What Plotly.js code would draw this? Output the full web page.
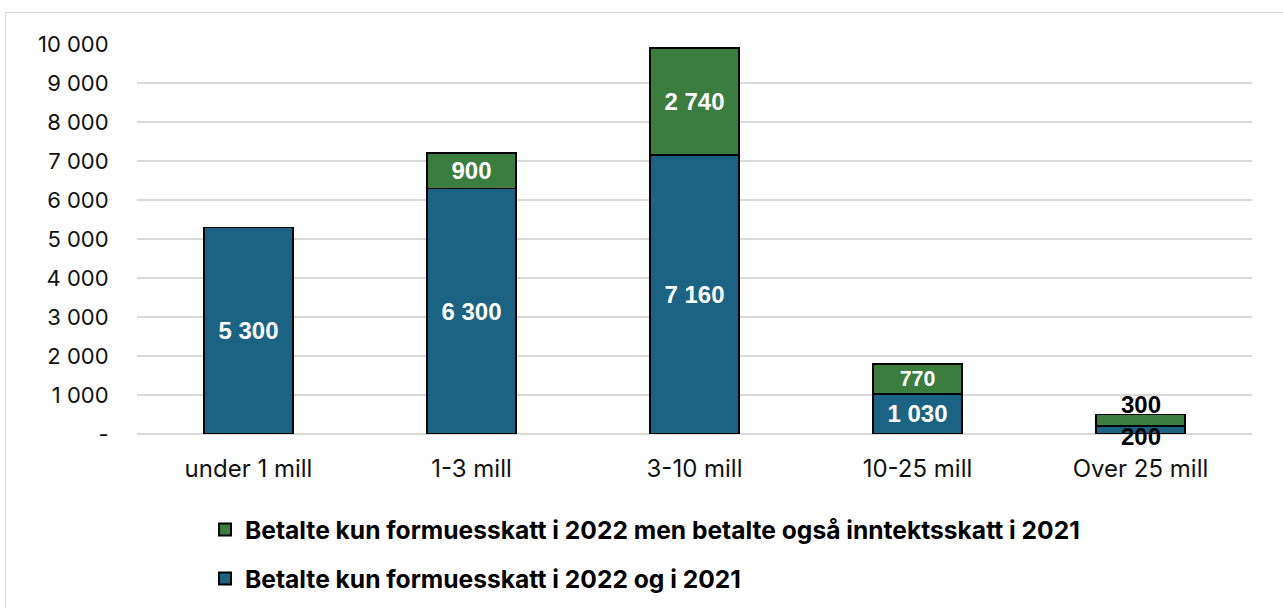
<!DOCTYPE html>
<html>
<head>
<meta charset="utf-8">
<script src="https://cdn.plot.ly/plotly-3.0.1.min.js"></script>
<style>
  html, body { margin: 0; padding: 0; background: #fff; overflow: hidden; }
  #frame { position: absolute; left: 5px; top: 12px; width: 1300px; height: 620px; border: 1px solid #d9d9d9; pointer-events: none; z-index: 5; }
  #chart { position: absolute; left: 0; top: 0; width: 1283px; height: 608px; }
</style>
</head>
<body>
<div id="frame"></div>
<div id="chart"></div>
<script>
const categories = ["under 1 mill", "1-3 mill", "3-10 mill", "10-25 mill", "Over 25 mill"];
const seriesBlueName = "Betalte kun formuesskatt i 2022 og i 2021";
const seriesGreenName = "Betalte kun formuesskatt i 2022 men betalte også inntektsskatt i 2021";
const blueValues = [5300, 6300, 7160, 1030, 200];
const greenValues = [0, 900, 2740, 770, 300];
const yTickVals = [0, 1000, 2000, 3000, 4000, 5000, 6000, 7000, 8000, 9000, 10000];
const yTickText = ["-", "1 000", "2 000", "3 000", "4 000", "5 000", "6 000", "7 000", "8 000", "9 000", "10 000"];

function fmt(v) {
  return String(v).replace(/\B(?=(\d{3})+(?!\d))/g, " ");
}

const last = categories.length - 1;
const labelFont = "Liberation Sans, Arial, sans-serif";

const blueText = blueValues.map((v, i) => (i === last ? "" : fmt(v)));
const greenText = greenValues.map((v, i) => (v > 0 && i !== last ? fmt(v) : ""));

const blue = {
  type: "bar",
  name: seriesBlueName,
  x: categories,
  y: blueValues,
  text: blueText,
  textposition: "inside",
  insidetextanchor: "middle",
  textangle: 0,
  textfont: { family: labelFont, size: 24, color: "#ffffff", weight: "bold" },
  marker: { color: "#1b6382", line: { color: "#000000", width: 1.5 } },
  legendgroup: "b",
  legendrank: 2,
  cliponaxis: false,
  hoverinfo: "skip"
};

const green = {
  type: "bar",
  name: seriesGreenName,
  x: categories,
  y: greenValues,
  text: greenText,
  textposition: "inside",
  insidetextanchor: "middle",
  textangle: 0,
  textfont: { family: labelFont, size: 24, color: "#ffffff", weight: "bold" },
  marker: { color: "#3a7d3f", line: { color: "#000000", width: 1.5 } },
  legendgroup: "g",
  legendrank: 1,
  cliponaxis: false,
  hoverinfo: "skip"
};

const annotations = [
  {
    x: categories[last],
    y: blueValues[last] / 2,
    xref: "x",
    yref: "y",
    text: "<b>" + fmt(blueValues[last]) + "</b>",
    showarrow: false,
    yshift: -6,
    font: { family: labelFont, size: 24, color: "#000000" }
  },
  {
    x: categories[last],
    y: blueValues[last] + greenValues[last],
    xref: "x",
    yref: "y",
    yanchor: "bottom",
    text: "<b>" + fmt(greenValues[last]) + "</b>",
    showarrow: false,
    yshift: -5,
    font: { family: labelFont, size: 24, color: "#000000" }
  }
];

const layout = {
  width: 1283,
  height: 608,
  paper_bgcolor: "rgba(0,0,0,0)",
  plot_bgcolor: "#ffffff",
  barmode: "stack",
  bargap: 0.6,
  margin: { l: 137, r: 31, t: 44, b: 174 },
  font: { family: "Inter, Liberation Sans, sans-serif", color: "#000000", size: 20 },
  xaxis: {
    type: "category",
    showgrid: false,
    showline: false,
    zeroline: false,
    ticks: "outside",
    ticklen: 13,
    tickcolor: "rgba(0,0,0,0)",
    tickfont: { family: "Inter, Liberation Sans, sans-serif", size: 24, color: "#111111" }
  },
  yaxis: {
    range: [0, 10000],
    tickvals: yTickVals,
    ticktext: yTickText,
    showgrid: true,
    gridcolor: "#d9d9d9",
    gridwidth: 1.5,
    zeroline: true,
    zerolinecolor: "#d9d9d9",
    zerolinewidth: 1.5,
    showline: false,
    ticks: "outside",
    ticklen: 23,
    tickcolor: "rgba(0,0,0,0)",
    tickfont: { family: "Inter, Liberation Sans, sans-serif", size: 22, color: "#111111" }
  },
  showlegend: true,
  legend: {
    orientation: "v",
    x: 0.061,
    xanchor: "left",
    yref: "container",
    y: 0.166,
    yanchor: "top",
    traceorder: "grouped",
    tracegroupgap: 14,
    itemsizing: "constant",
    font: { family: "Inter, Liberation Sans, sans-serif", size: 24.6, color: "#000000", weight: "bold" },
    bgcolor: "rgba(0,0,0,0)"
  },
  annotations: annotations
};

Plotly.newPlot("chart", [blue, green], layout, { displayModeBar: false, staticPlot: true });
</script>
</body>
</html>
